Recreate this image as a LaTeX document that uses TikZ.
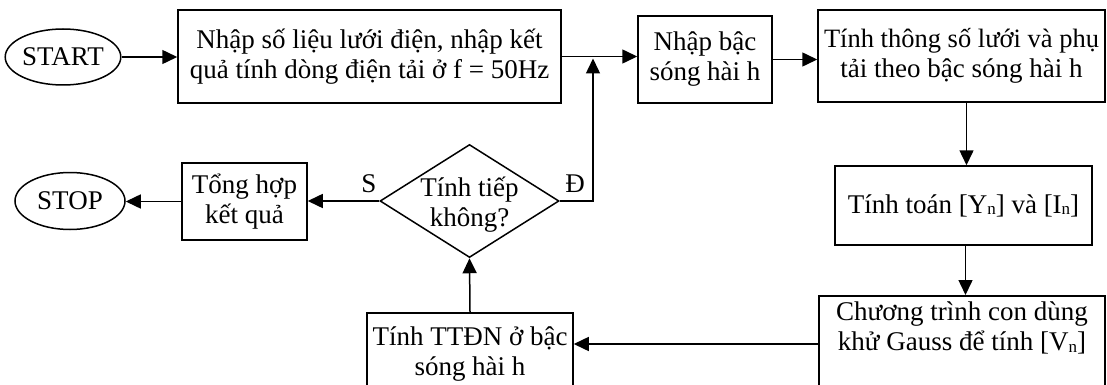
\documentclass[tikz,border=0pt]{standalone}
\usepackage{fontspec}
\setmainfont{Liberation Serif}
\usetikzlibrary{shapes.geometric,arrows.meta,calc}
% small lowered index letter, as in [Y_n]
\newcommand{\idx}[1]{\raisebox{-1.5pt}{\fontsize{17}{17}\selectfont #1}}

\begin{document}
\begin{tikzpicture}[x=1pt,y=-1pt,
  every node/.style={font=\fontsize{27}{30}\selectfont, inner sep=0pt},
  box/.style={draw, line width=1.5pt, rectangle, align=center},
  term/.style={draw, line width=1.5pt, ellipse},
  txt/.style={align=center},
  arr/.style={line width=1.5pt, -{Triangle[length=15pt,width=14pt]}}]
\useasboundingbox (0,0) rectangle (1107,385);

% terminals
\node[term, minimum width=111pt, minimum height=56pt] (start) at (63,57) {START};
\node[term, minimum width=110pt, minimum height=57pt] (stop) at (70,201) {STOP};

% process boxes
\node[box, minimum width=383pt, minimum height=93pt] (b1) at (369.5,56.5)
  {Nhập số liệu lưới điện, nhập kết\\quả tính dòng điện tải ở f = 50Hz};
\node[box, minimum width=134pt, minimum height=87pt] (b2) at (705,59.5)
  {Nhập bậc\\sóng hài h};
\node[box, minimum width=287pt, minimum height=92pt] (b3) at (961.5,56)
  {\fontsize{26.5}{30}\selectfont Tính thông số lưới và phụ\\tải theo bậc sóng hài h};
\node[box, minimum width=257pt, minimum height=79pt] (b4) at (963.5,205.5)
  {Tính toán [Y\idx{n}] và [I\idx{n}]};
\node[box, minimum width=286pt, minimum height=110pt, anchor=north] (b5) at (962,295) {};
\node[txt] (t5) at (962,328) {Chương trình con dùng\\khử Gauss để tính [V\idx{n}]};
\node[box, minimum width=206pt, minimum height=110pt, anchor=north] (b6) at (470,312) {};
\node[txt] (t6) at (470,354) {Tính TTĐN ở bậc\\sóng hài h};
\node[box, minimum width=125pt, minimum height=77pt] (b7) at (244.5,201.5)
  {Tổng hợp\\kết quả};

% decision
\node[draw, line width=1.5pt, diamond, minimum width=179pt, minimum height=113pt] (dia) at (469.5,201) {};
\node[txt] (q) at (469.5,205) {Tính tiếp\\không?};
\node (ls) at (369,184) {S};
\node (ld) at (575,184) {Đ};

% connectors
\coordinate (jn) at (593,0);
\coordinate (r6) at (470,344);
\draw[arr] (start.east) -- (start.east -| b1.west);
\draw[arr] (b1.east) -- (b1.east -| b2.west);
\draw[arr] (b2.east) -- (b2.east -| b3.west);
\draw[arr] ([xshift=5pt]b3.south) -- ([xshift=5pt]b3.south |- b4.north);
\draw[arr] ([xshift=2pt]b4.south) -- ([xshift=2pt]b4.south |- b5.north);
\draw[arr] (r6 -| b5.west) -- (r6 -| b6.east);
\draw[arr] (b6.north) -- (dia.south);
\draw[arr] (dia.west) -- (dia.west -| b7.east);
\draw[arr] (b7.west) -- (b7.west -| stop.east);
\draw[arr, shorten >=2pt] (dia.east) -| (jn |- b1.east);
\end{tikzpicture}
\end{document}
